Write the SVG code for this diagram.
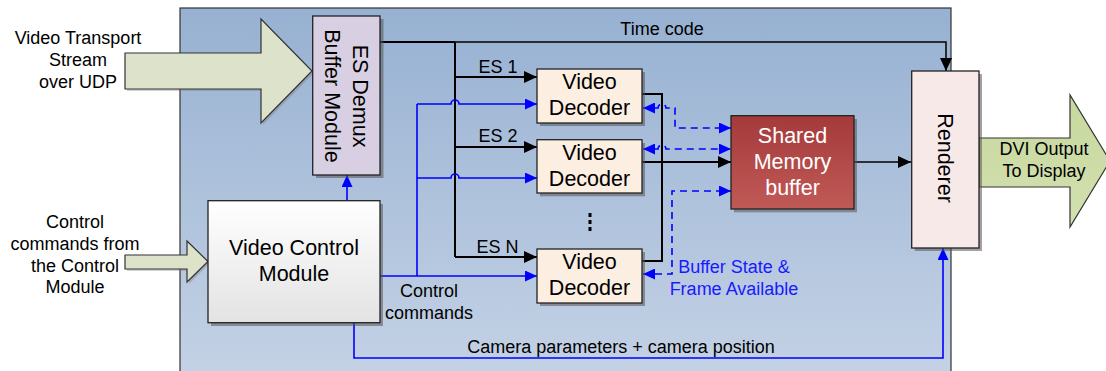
<svg xmlns="http://www.w3.org/2000/svg" width="1106" height="371" viewBox="0 0 1106 371">
<style>
text{font-family:"Liberation Sans",Arial,sans-serif;fill:#000}
.s18{font-size:18px}
.s21{font-size:21.5px}
.mid{text-anchor:middle}
.blue{fill:#1a1aff}
.white{fill:#fff}
.box{stroke:#222;stroke-width:1.3}
.shadow{fill:#555;opacity:0.55}
.bigarrow{stroke:#333;stroke-width:1.2}
.blk{fill:none;stroke:#000;stroke-width:2}
.blk1{fill:none;stroke:#000;stroke-width:1.5}
.bl{fill:none;stroke:#0000ff;stroke-width:1.6}
.bld{fill:none;stroke:#0000ff;stroke-width:1.6;stroke-dasharray:7,5}
</style>
<defs>
<linearGradient id="bg" x1="0" y1="0" x2="0" y2="1">
<stop offset="0" stop-color="#97b1d2"/>
<stop offset="1" stop-color="#c4d2e5"/>
</linearGradient>
<linearGradient id="gvcm" x1="0" y1="0" x2="0" y2="1">
<stop offset="0" stop-color="#ffffff"/>
<stop offset="1" stop-color="#e3e3e3"/>
</linearGradient>
<linearGradient id="gsm" x1="0" y1="0" x2="0" y2="1">
<stop offset="0" stop-color="#a43a3a"/>
<stop offset="1" stop-color="#c05a57"/>
</linearGradient>
<linearGradient id="gdvi" x1="0" y1="0" x2="0" y2="1">
<stop offset="0" stop-color="#c7d89e"/>
<stop offset="1" stop-color="#d3e0b0"/>
</linearGradient>
<marker id="ab" markerUnits="userSpaceOnUse" markerWidth="13" markerHeight="12" refX="13" refY="6" orient="auto">
<path d="M0,0 L13,6 L0,12 z" fill="#000"/>
</marker>
<marker id="au" markerUnits="userSpaceOnUse" markerWidth="12" markerHeight="11" refX="12" refY="5.5" orient="auto">
<path d="M0,0 L12,5.5 L0,11 z" fill="#0000ff"/>
</marker>
<marker id="aus" markerUnits="userSpaceOnUse" markerWidth="12" markerHeight="11" refX="0" refY="5.5" orient="auto">
<path d="M12,0 L0,5.5 L12,11 z" fill="#0000ff"/>
</marker>
</defs>

<rect x="180" y="8" width="771" height="370" fill="url(#bg)" stroke="#333" stroke-width="1.2"/>

<g id="input-video-transport">
<path d="M127,55 H263 V21 L314,73 L263,125 V91 H127 z" fill="#777" opacity="0.35"/>
<path d="M125,53 H261 V19 L312,71 L261,123 V89 H125 z" fill="#dde2cb" class="bigarrow"/>
<text class="s18 mid" x="78" y="44">Video Transport</text>
<text class="s18 mid" x="78" y="66">Stream</text>
<text class="s18 mid" x="78" y="87.5">over UDP</text>
</g>

<g id="input-control-commands">
<path d="M127,257 H189 V243 L210,263 L189,284 V271 H127 z" fill="#777" opacity="0.35"/>
<path d="M125,255 H187 V241 L208,261.5 L187,282 V269 H125 z" fill="#dde2cb" class="bigarrow"/>
<text class="s18 mid" x="75" y="228">Control</text>
<text class="s18 mid" x="75" y="250">commands from</text>
<text class="s18 mid" x="75" y="271.5">the Control</text>
<text class="s18 mid" x="75" y="293">Module</text>
</g>

<g id="output-dvi">
<path d="M979,138 H1070 V95 L1110,161 L1070,227 V187 H979 z" fill="url(#gdvi)" class="bigarrow"/>
<text class="s18 mid" x="1044" y="155">DVI Output</text>
<text class="s18 mid" x="1044" y="177">To Display</text>
</g>

<g id="connectors">
<path class="blk" d="M380,42 H455"/>
<path class="blk1" d="M455,42 H946 V71" marker-end="url(#ab)"/>
<path class="blk" d="M455,42 V257"/>
<path class="blk" d="M455,77 H537" marker-end="url(#ab)"/>
<path class="blk" d="M455,147 H537" marker-end="url(#ab)"/>
<path class="blk" d="M455,257 H537" marker-end="url(#ab)"/>
<path class="blk" d="M642,94 H662 V261 H642"/>
<path class="blk" d="M642,162 H731" marker-end="url(#ab)"/>
<path class="blk1" d="M854,162 H911" marker-end="url(#ab)"/>
<path class="bl" d="M347,200 V175" marker-end="url(#au)"/>
<path class="bl" d="M380,276 H537" marker-end="url(#au)"/>
<path class="bl" d="M417,276 V104"/>
<path class="bl" d="M417,104 H451 A4,4 0 0 1 459,104 H537" marker-end="url(#au)"/>
<path class="bl" d="M417,178 H451 A4,4 0 0 1 459,178 H537" marker-end="url(#au)"/>
<path class="bl" d="M354,323 V358 H943 V248" marker-end="url(#au)"/>
<path class="bld" d="M643,108 H658 A4,4 0 0 1 666,108 H675 V128 H731" marker-start="url(#aus)" marker-end="url(#au)"/>
<path class="bld" d="M643,149 H658 A4,4 0 0 1 666,149 H731" marker-start="url(#aus)" marker-end="url(#au)"/>
<path class="bld" d="M643,274 H672 V191 H731" marker-start="url(#aus)" marker-end="url(#au)"/>
</g>

<g id="labels">
<text class="s18 mid" x="662" y="35">Time code</text>
<text class="s18 mid" x="498" y="73">ES 1</text>
<text class="s18 mid" x="498" y="142">ES 2</text>
<text class="s18 mid" x="497.5" y="253">ES N</text>
<text class="s18 mid" x="429" y="297">Control</text>
<text class="s18 mid" x="429" y="318.5">commands</text>
<text class="s18 mid" x="621" y="352.5">Camera parameters + camera position</text>
<text class="s18 mid blue" x="734" y="273">Buffer State &amp;</text>
<text class="s18 mid blue" x="734" y="295">Frame Available</text>
<rect x="588.5" y="213" width="3" height="4" fill="#000"/>
<rect x="588.5" y="220" width="3" height="4" fill="#000"/>
<rect x="588.5" y="227" width="3" height="4" fill="#000"/>
</g>

<g id="es-demux">
<rect class="shadow" x="316" y="19" width="67.5" height="159"/>
<rect class="box" x="312.7" y="16" width="67.3" height="159" fill="#d8d0e2"/>
<g transform="translate(346,96) rotate(90)">
<text class="s21 mid" x="0" y="-7">ES Demux</text>
<text class="s21 mid" x="0" y="21">Buffer Module</text>
</g>
</g>

<g id="video-control-module">
<rect class="shadow" x="211" y="204" width="172" height="122"/>
<rect class="box" x="208" y="200.7" width="172" height="122" fill="url(#gvcm)"/>
<text class="s21 mid" x="294" y="255">Video Control</text>
<text class="s21 mid" x="294" y="281">Module</text>
</g>

<g id="video-decoder-1">
<rect class="shadow" x="540" y="72" width="105" height="54"/>
<rect class="box" x="537" y="69" width="105" height="54" fill="#fdeee2"/>
<text class="s21 mid" x="589.5" y="89">Video</text>
<text class="s21 mid" x="589.5" y="115">Decoder</text>
</g>

<g id="video-decoder-2">
<rect class="shadow" x="540" y="143" width="105" height="53.3"/>
<rect class="box" x="537" y="139.7" width="105" height="53.3" fill="#fdeee2"/>
<text class="s21 mid" x="589.5" y="160">Video</text>
<text class="s21 mid" x="589.5" y="186">Decoder</text>
</g>

<g id="video-decoder-n">
<rect class="shadow" x="540" y="252" width="105" height="54"/>
<rect class="box" x="537" y="249" width="105" height="54" fill="#fdeee2"/>
<text class="s21 mid" x="589.5" y="268.5">Video</text>
<text class="s21 mid" x="589.5" y="295">Decoder</text>
</g>

<g id="shared-memory">
<rect class="shadow" x="734" y="119" width="123" height="93.3"/>
<rect class="box" x="731" y="115.7" width="123" height="93.3" fill="url(#gsm)"/>
<text class="s21 mid white" x="792.5" y="142.5">Shared</text>
<text class="s21 mid white" x="792.5" y="168.5">Memory</text>
<text class="s21 mid white" x="792.5" y="194.5">buffer</text>
</g>

<g id="renderer">
<rect class="shadow" x="914.7" y="74" width="67.3" height="177"/>
<rect class="box" x="911.7" y="71" width="67.3" height="177" fill="#f8e9e9"/>
<g transform="translate(945,158) rotate(90)">
<text class="s21 mid" x="0" y="7.5">Renderer</text>
</g>
</g>
</svg>
